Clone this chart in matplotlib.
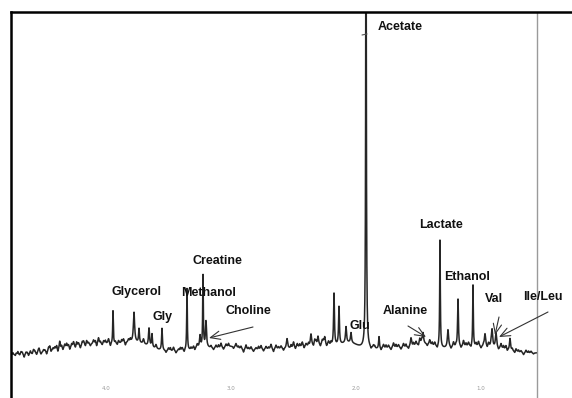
import matplotlib

matplotlib.use("Agg")
import matplotlib.pyplot as plt
import numpy as np


OUTPUT_PATH = "out.png"

# Resolved resonances: chemical shift (ppm), height, half-width (ppm)
PEAK_PPM = [3.944, 3.776, 3.736, 3.656, 3.632, 3.552, 3.352, 3.248, 3.224, 3.200,
            2.552, 2.360, 2.304, 2.250, 2.176, 2.136, 2.080, 2.040, 1.920, 1.816,
            1.560, 1.464, 1.328, 1.264, 1.184, 1.064, 0.968, 0.912, 0.880, 0.768,
            4.370, 4.060]
PEAK_HEIGHT = [33, 30, 14, 18, 13, 22, 62, 12, 72, 26,
               10, 12, 9, 8, 52, 38, 16, 10, 520, 12,
               9, 11, 108, 18, 48, 62, 13, 18, 15, 12,
               8, 6]
PEAK_WIDTH = [0.003, 0.006, 0.004, 0.005, 0.004, 0.004, 0.003, 0.005, 0.003, 0.005,
              0.006, 0.006, 0.006, 0.006, 0.004, 0.004, 0.005, 0.005, 0.003, 0.004,
              0.006, 0.006, 0.003, 0.006, 0.004, 0.003, 0.006, 0.006, 0.006, 0.005,
              0.005, 0.005]

# Small unresolved signals along the baseline
MINOR_PPM = [4.72, 4.68, 4.63, 4.58, 4.54, 4.49, 4.45, 4.41, 4.33, 4.30,
             4.26, 4.22, 4.18, 4.14, 4.10, 4.02, 3.98, 3.90, 3.86, 3.82,
             3.70, 3.60, 3.50, 3.46, 3.42, 3.39, 3.30, 3.27, 3.12, 3.08,
             3.04, 2.96, 2.92, 2.88, 2.84, 2.80, 2.76, 2.72, 2.68, 2.64,
             2.60, 2.50, 2.47, 2.43, 2.40, 2.33, 2.27, 2.22, 1.86, 1.78,
             1.74, 1.70, 1.66, 1.62, 1.52, 1.49, 1.41, 1.37, 1.22, 1.14,
             1.10, 1.02, 0.94, 0.84, 0.80, 0.72, 0.68, 0.64, 0.60]
MINOR_HEIGHT = [2, 3, 2, 4, 3, 2, 5, 3, 4, 3,
                5, 3, 4, 2, 4, 3, 5, 3, 4, 3,
                5, 4, 3, 4, 2, 3, 3, 4, 3, 5,
                3, 4, 3, 5, 3, 2, 4, 3, 5, 4,
                3, 6, 4, 5, 3, 6, 5, 4, 3, 4,
                3, 5, 3, 4, 4, 6, 5, 4, 5, 6,
                4, 5, 4, 5, 4, 3, 2, 3, 2]

# Baseline noise spikes and dips (ppm, signed height)
NOISE_PPM = [4.745, 4.725, 4.705, 4.690, 4.670, 4.655, 4.640, 4.620, 4.605, 4.590,
             4.570, 4.555, 4.535, 4.520, 4.500, 4.475, 4.460, 4.440, 4.425, 4.395,
             4.385, 4.355, 4.345, 4.315, 4.290, 4.275, 4.245, 4.235, 4.205, 4.190,
             4.165, 4.155, 4.125, 4.085, 4.075, 4.045, 4.030, 4.005, 3.965, 3.925,
             3.910, 3.875, 3.845, 3.805, 3.520, 3.485, 3.440, 3.405, 3.375, 3.320,
             3.290, 3.160, 3.140, 3.100, 3.060, 3.020, 2.980, 2.940, 2.900, 2.860,
             2.820, 2.780, 2.740, 2.700, 2.660, 2.620, 2.580, 2.520, 2.485, 2.450,
             2.415, 2.380, 2.340, 2.320, 2.285, 2.260, 2.235, 2.200, 1.880, 1.850,
             1.800, 1.760, 1.720, 1.680, 1.640, 1.600, 1.580, 1.540, 1.500, 1.475,
             1.430, 1.390, 1.350, 1.240, 1.200, 1.160, 1.120, 1.080, 1.040, 1.000,
             0.980, 0.950, 0.920, 0.860, 0.820, 0.790, 0.750, 0.730, 0.700, 0.660,
             0.620, 0.580]
NOISE_HEIGHT = [2, -2, 3, -1, 2, -3, 2, -2, 3, -1,
                2, -2, 3, -2, 2, -3, 3, -2, 2, 4,
                -3, 3, -2, 4, -3, 3, -2, 4, -3, 3,
                -2, 4, -2, 3, -3, 2, -2, 3, -3, 2,
                -2, 3, -3, 3, -2, 3, -2, 3, -2, 2,
                -2, 2, -2, 3, -2, 3, -2, 2, -3, 2,
                -2, 3, -2, 2, -3, 2, -2, 3, -2, 3,
                -2, 3, -2, 3, -2, 3, -2, 3, -2, 2,
                -2, 3, -2, 3, -2, 3, -2, 3, -2, 3,
                -2, 3, -2, -2, 2, -2, 3, -2, 3, -2,
                2, -2, 2, -2, 3, -2, 2, -2, 2, -2,
                2, -1]

# Broad baseline humps: centre (ppm), height, sigma (ppm)
HUMP_PPM = [4.70, 4.05, 3.75, 3.20, 3.00, 2.75, 2.25, 2.05, 1.60, 1.45, 1.05, 0.64]
HUMP_HEIGHT = [-3, 8, 6, 4, 4, 2, 6, 5, 4, 4, 5, -2]
HUMP_SIGMA = [0.15, 0.22, 0.10, 0.10, 0.05, 0.20, 0.20, 0.06, 0.20, 0.06, 0.20, 0.08]

# Metabolite labels: text, position (ppm, intensity)
LABELS = ["Acetate", "Lactate", "Ethanol", "Val", "Ile/Leu", "Alanine", "Glu",
          "Creatine", "Methanol", "Glycerol", "Gly", "Choline"]
LABEL_PPM = [1.824, 1.320, 1.112, 0.896, 0.504, 1.608, 1.968,
             3.112, 3.176, 3.752, 3.544, 2.864]
LABEL_Y = [325, 127, 75, 53, 55, 41, 26, 91, 59, 60, 35, 41]

# Arrows pointing at crowded peaks: tail -> head (ppm, intensity)
ARROW_TAIL = [(2.824, 25), (1.584, 26), (0.856, 35), (0.464, 40)]
ARROW_HEAD = [(3.176, 14), (1.440, 15), (0.888, 17), (0.856, 15)]

TICK_PPM = [4.0, 3.0, 2.0, 1.0]
SPECTRUM_END = 0.552


def lorentz(x, centre, height, width):
    return height * width ** 2 / ((x - centre) ** 2 + width ** 2)


def main() -> None:
    ppm = np.linspace(4.76, SPECTRUM_END, 7000)
    spectrum = np.zeros_like(ppm)

    for c, h, s in zip(HUMP_PPM, HUMP_HEIGHT, HUMP_SIGMA):
        spectrum += h * np.exp(-0.5 * ((ppm - c) / s) ** 2)
    for c, h in zip(MINOR_PPM, MINOR_HEIGHT):
        spectrum += lorentz(ppm, c, h, 0.006)
    for c, h in zip(NOISE_PPM, NOISE_HEIGHT):
        spectrum += lorentz(ppm, c, h, 0.004)
    for c, h, w in zip(PEAK_PPM, PEAK_HEIGHT, PEAK_WIDTH):
        spectrum += lorentz(ppm, c, h, w)

    fig = plt.figure(figsize=(5.72, 3.98), dpi=100)
    ax = fig.add_axes([11 / 572, 0, (572 - 11) / 572, (398 - 12) / 398])

    ax.plot(ppm, spectrum, color="#262626", linewidth=1.1)
    ax.axvline(SPECTRUM_END, color="#9a9a9a", linewidth=1.0)

    ax.set_xlim(4.76, 0.272)
    ax.set_ylim(-46, 340)
    ax.set_xticks([])
    ax.set_yticks([])

    ax.spines["left"].set_linewidth(1.8)
    ax.spines["top"].set_linewidth(1.8)
    ax.spines["right"].set_visible(False)
    ax.spines["bottom"].set_visible(False)

    text_style = dict(fontsize=9, fontweight="bold", family="Liberation Sans",
                      color="#111111", va="center")
    for label, x, y in zip(LABELS, LABEL_PPM, LABEL_Y):
        if label == "Acetate":
            ax.annotate(
                label,
                xy=(1.952, 317),
                xytext=(x, y),
                ha="left",
                arrowprops=dict(arrowstyle="-", color="#555555", lw=0.8,
                                shrinkA=6, shrinkB=0),
                **text_style,
            )
        else:
            ax.text(x, y, label, ha="center", **text_style)

    for tail, head in zip(ARROW_TAIL, ARROW_HEAD):
        ax.annotate(
            "",
            xy=head,
            xytext=tail,
            arrowprops=dict(arrowstyle="->,head_length=0.7,head_width=0.3",
                            color="#333333", lw=0.8, shrinkA=0, shrinkB=0),
        )

    for tick in TICK_PPM:
        ax.text(tick, -36, f"{tick:.1f}", ha="center", va="center",
                fontsize=4, color="#999999")

    fig.savefig(OUTPUT_PATH, dpi=100)
    plt.close(fig)


if __name__ == "__main__":
    main()
